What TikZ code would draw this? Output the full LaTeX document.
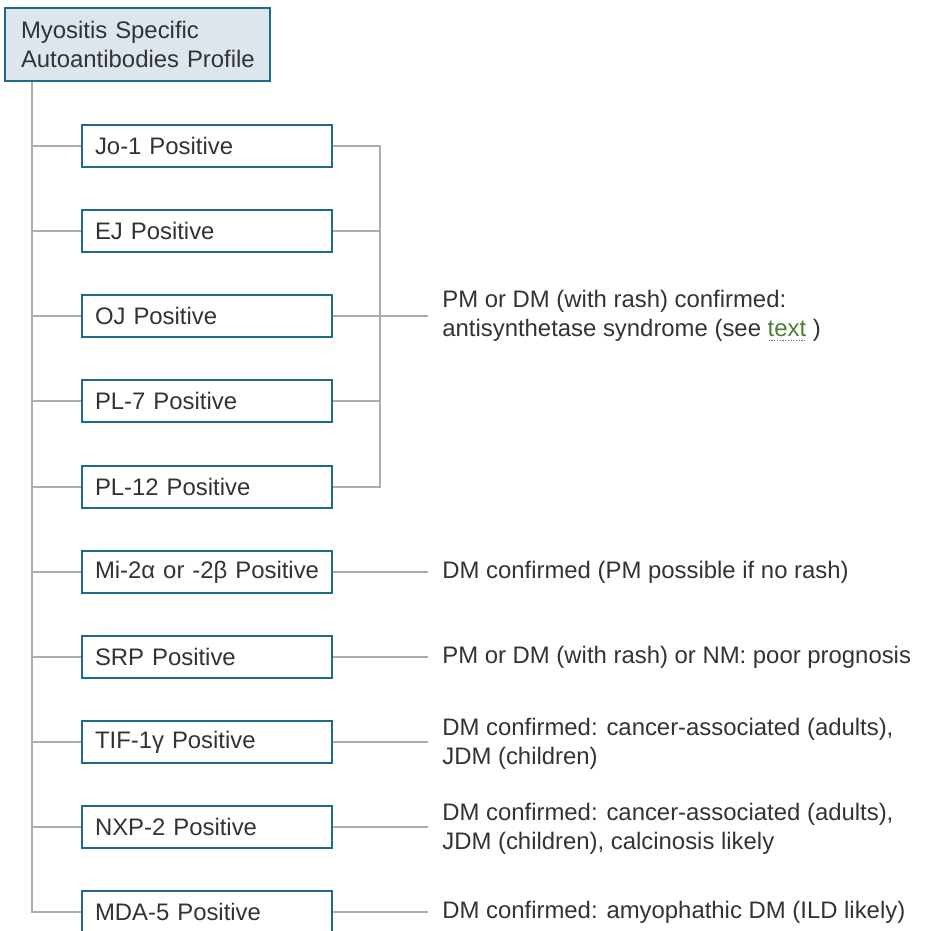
\documentclass[tikz,border=0pt]{standalone}
\usepackage{fontspec}
\setmainfont{Liberation Sans}
\usetikzlibrary{positioning}

\definecolor{boxblue}{RGB}{31,105,138}
\definecolor{boxfill}{RGB}{220,230,236}
\definecolor{linkgray}{RGB}{172,172,172}
\definecolor{textgray}{RGB}{51,51,51}
\definecolor{linkgreen}{RGB}{78,125,52}

\newcommand{\dotlink}[1]{\textcolor{linkgreen}{\setbox0\hbox{#1}\rlap{\raisebox{-2.6pt}{\hbox to \wd0{\xleaders\hbox to 1.5pt{\hss\rule{0.7pt}{0.5pt}\hss}\hfill}}}\box0}}

\begin{document}
\begin{tikzpicture}[
        x=0.02cm, y=-0.02cm,
        font=\fontsize{13.6}{16.5}\selectfont,
        every node/.style={text=textgray},
        rootbox/.style={draw=boxblue, fill=boxfill, line width=1.1pt,
            minimum width=5.3cm, minimum height=1.46cm,
            text width=4.66cm, inner xsep=0.32cm, align=left},
        abbox/.style={draw=boxblue, fill=white, line width=1.1pt,
            minimum width=5cm, minimum height=0.84cm,
            text width=4.48cm, inner xsep=0.26cm, align=left},
        result/.style={anchor=west, inner xsep=0.28cm, align=left},
        link/.style={draw=linkgray, line width=1pt}
    ]
    \useasboundingbox (0,0) rectangle (925,931);

    \node[rootbox, name=root] at (137.5,44.5)
        {\mbox{Myositis Specific}\\\mbox{Autoantibodies Profile}};

    % antibody boxes
    \node[abbox, name=jo1]  at (207,146) {\mbox{Jo-1 Positive}};
    \node[abbox, name=ej]   at (207,231) {\mbox{EJ Positive}};
    \node[abbox, name=oj]   at (207,316) {\mbox{OJ Positive}};
    \node[abbox, name=pl7]  at (207,401) {\mbox{PL-7 Positive}};
    \node[abbox, name=pl12] at (207,487) {\mbox{PL-12 Positive}};
    \node[abbox, name=mi2]  at (207,572) {\mbox{Mi-2α or -2β Positive}};
    \node[abbox, name=srp]  at (207,657) {\mbox{SRP Positive}};
    \node[abbox, name=tif]  at (207,742) {\mbox{TIF-1γ Positive}};
    \node[abbox, name=nxp]  at (207,827) {\mbox{NXP-2 Positive}};
    \node[abbox, name=mda5] at (207,912) {\mbox{MDA-5 Positive}};

    % results
    \node[result, name=asyn] at (428,316)
        {PM or DM (with rash) confirmed:\\antisynthetase syndrome (see \dotlink{text} )};
    \node[result, name=mi2res]  at (428,572) {DM confirmed (PM possible if no rash)};
    \node[result, name=srpres]  at (428,657) {PM or DM (with rash) or NM: poor prognosis};
    \node[result, name=tifres]  at (428,744)
        {DM confirmed: cancer-associated (adults),\\JDM (children)};
    \node[result, name=nxpres]  at (428,829)
        {DM confirmed: cancer-associated (adults),\\JDM (children), calcinosis likely};
    \node[result, name=mda5res] at (428,912) {DM confirmed: amyophathic DM (ILD likely)};

    % trunk and branches
    \coordinate (trunk) at (32,0);
    \draw[link] (root.south -| trunk) -- (trunk |- mda5.west) -- (mda5.west);
    \draw[link] (trunk |- jo1.west) -- (jo1.west);
    \draw[link] (trunk |- ej.west) -- (ej.west);
    \draw[link] (trunk |- oj.west) -- (oj.west);
    \draw[link] (trunk |- pl7.west) -- (pl7.west);
    \draw[link] (trunk |- pl12.west) -- (pl12.west);
    \draw[link] (trunk |- mi2.west) -- (mi2.west);
    \draw[link] (trunk |- srp.west) -- (srp.west);
    \draw[link] (trunk |- tif.west) -- (tif.west);
    \draw[link] (trunk |- nxp.west) -- (nxp.west);

    % bracket for the antisynthetase group
    \coordinate (brk) at (380,0);
    \draw[link] (jo1.east) -- (jo1.east -| brk) -- (pl12.east -| brk) -- (pl12.east);
    \draw[link] (ej.east) -- (ej.east -| brk);
    \draw[link] (oj.east) -- (asyn.west);
    \draw[link] (pl7.east) -- (pl7.east -| brk);

    \draw[link] (mi2.east) -- (mi2res.west);
    \draw[link] (srp.east) -- (srpres.west);
    \draw[link] (tif.east) -- (tif.east -| tifres.west);
    \draw[link] (nxp.east) -- (nxp.east -| nxpres.west);
    \draw[link] (mda5.east) -- (mda5res.west);
\end{tikzpicture}
\end{document}
